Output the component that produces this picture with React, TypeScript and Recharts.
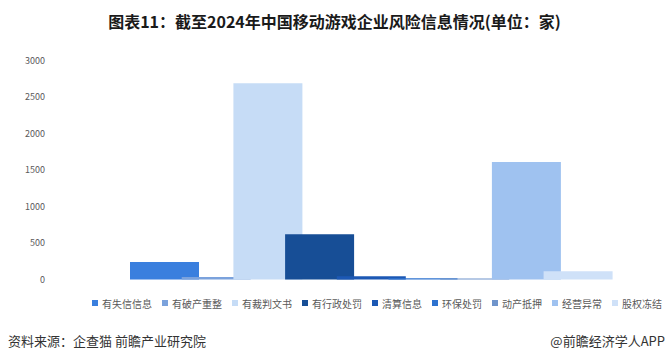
import { BarChart, Bar, XAxis, YAxis } from "recharts";

const categories = ["2024"];
const seriesNames = [
    "有失信信息",
    "有破产重整",
    "有裁判文书",
    "有行政处罚",
    "清算信息",
    "环保处罚",
    "动产抵押",
    "经营异常",
    "股权冻结",
];
const seriesValues = [240, 35, 2690, 620, 44, 18, 12, 1610, 112];
const seriesColors = [
    "#3a7fde",
    "#7ba2dc",
    "#c6dcf6",
    "#174e96",
    "#1c58b4",
    "#2d72cf",
    "#6f94cb",
    "#9fc2f0",
    "#cfe1f8",
];
const yTicks = [0, 500, 1000, 1500, 2000, 2500, 3000];

const FONT = '"Noto Sans CJK SC", "Noto Sans", sans-serif';

const chartData = categories.map((name) => {
    const row: Record<string, string | number> = { name };
    seriesNames.forEach((s, i) => {
        row[s] = seriesValues[i];
    });
    return row;
});

export default function App() {
    return (
        <div
            style={{
                position: "absolute",
                left: 0,
                top: 0,
                width: 669,
                height: 358,
                background: "#fff",
                fontFamily: FONT,
                overflow: "hidden",
            }}
        >
            <div
                style={{
                    position: "absolute",
                    top: 10,
                    left: 0,
                    width: 669,
                    textAlign: "center",
                    fontSize: 16,
                    fontWeight: 700,
                    lineHeight: "22px",
                    color: "#1a1a1a",
                }}
            >
                图表11：截至2024年中国移动游戏企业风险信息情况(单位：家)
            </div>

            <div style={{ position: "absolute", left: 0, top: 0 }}>
                <BarChart
                    width={669}
                    height={358}
                    data={chartData}
                    margin={{ top: 60.5, right: 6, bottom: 78.5, left: 20 }}
                    barGap={-17.3}
                    barSize={69}
                >
                    <XAxis dataKey="name" hide />
                    <YAxis
                        width={60}
                        domain={[0, 3000]}
                        ticks={yTicks}
                        axisLine={false}
                        tickLine={false}
                        tickSize={0}
                        tickMargin={35}
                        tick={{ fontSize: 9, fill: "#595959", fontFamily: FONT }}
                    />
                    {seriesNames.map((s, i) => (
                        <Bar
                            key={s}
                            dataKey={s}
                            fill={seriesColors[i]}
                            isAnimationActive={false}
                        />
                    ))}
                </BarChart>
            </div>

            <div
                style={{
                    position: "absolute",
                    left: 92,
                    top: 295,
                    display: "flex",
                    alignItems: "center",
                    height: 16,
                    fontSize: 10,
                    color: "#595959",
                    whiteSpace: "nowrap",
                }}
            >
                {seriesNames.map((s, i) => (
                    <div
                        key={s}
                        style={{ display: "flex", alignItems: "center", marginRight: 10 }}
                    >
                        <span
                            style={{
                                width: 6,
                                height: 6,
                                background: seriesColors[i],
                                marginRight: 4,
                                display: "inline-block",
                            }}
                        />
                        <span>{s}</span>
                    </div>
                ))}
            </div>

            <div
                style={{
                    position: "absolute",
                    left: 8,
                    top: 332,
                    fontSize: 13,
                    lineHeight: "18px",
                    color: "#333",
                }}
            >
                资料来源：企查猫 前瞻产业研究院
            </div>
            <div
                style={{
                    position: "absolute",
                    right: 4,
                    top: 332,
                    fontSize: 13,
                    lineHeight: "18px",
                    color: "#333",
                }}
            >
                @前瞻经济学人APP
            </div>
        </div>
    );
}
